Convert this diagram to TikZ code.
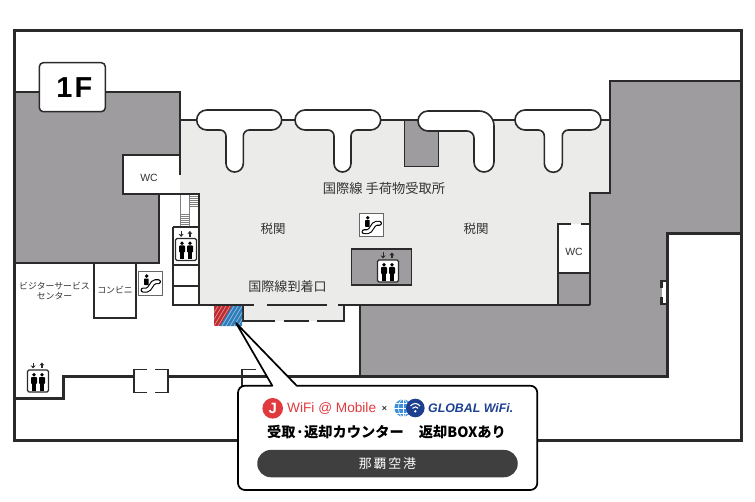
\documentclass[tikz,border=0pt]{standalone}
\usepackage{fontspec}
\setmainfont{Liberation Sans}
\newfontfamily\cjk{Noto Sans CJK JP}
\newfontfamily\cjkwide[LetterSpace=14]{Noto Sans CJK JP}
\usetikzlibrary{arrows.meta}
\definecolor{wallc}{HTML}{2A2A2A}
\definecolor{palec}{HTML}{EBEBEA}
\definecolor{grayc}{HTML}{9E9C9E}
\definecolor{textc}{HTML}{333333}
\definecolor{jred}{HTML}{E0393E}
\definecolor{gblue}{HTML}{3B8FDB}
\definecolor{gnavy}{HTML}{1D3F8F}
\definecolor{hred}{HTML}{BE2A2F}
\definecolor{hblue}{HTML}{2F7CBB}
\tikzset{
  x=1bp,y=-1bp,
  outerwall/.style={draw=wallc,line width=3bp,line join=miter},
  wall/.style={draw=wallc,line width=2.4bp,line join=miter},
  thinwall/.style={draw=wallc,line width=1.7bp,line join=miter},
  belt/.style={draw=wallc,line width=1.6bp,fill=white,line join=round},
  label/.style={text=textc,inner sep=0pt,font=\cjk\fontsize{12.5}{14}\selectfont},
  smalllabel/.style={text=textc,inner sep=0pt,align=center,font=\cjk\fontsize{8.9}{10.2}\selectfont},
  wclabel/.style={text=textc,inner sep=0pt,font=\fontsize{10.5}{11}\selectfont},
  liftarrow/.style={draw=wallc,line width=1.2bp,-{Stealth[length=3bp,width=5bp]}},
  liftpic/.pic={
    \draw[wallc,line width=1.3bp,fill=white,rounded corners=1.5bp] (0,0) rectangle (21,22);
    \foreach \px in {6.5,14.5}{
      \fill[black] (\px,4.7) circle (1.9);
      \fill[black,rounded corners=0.8bp] (\px-3,7) rectangle (\px+3,14);
      \fill[black] (\px-2.4,12) rectangle (\px+2.4,21);
    }
    \draw[liftarrow] (5.6,-7.5) -- (5.6,-1.6);
    \draw[liftarrow] (14.4,-1.6) -- (14.4,-7.5);
  },
  escpic/.pic={
    \draw[gray!80!black,line width=0.8bp,fill=white] (0,0) rectangle (24,23.4);
    \fill[black] (8.2,4.4) circle (1.9);
    \fill[black,rounded corners=0.6bp] (5.6,6.8) rectangle (10.2,13.5);
    \draw[black,line width=5bp,line cap=round] (4.5,18.4) -- (8,18.4) .. controls (12,18.4) and (13,10) .. (17,10) -- (20,10);
    \draw[white,line width=2.8bp,line cap=round] (4.5,18.4) -- (8,18.4) .. controls (12,18.4) and (13,10) .. (17,10) -- (20,10);
  }
}
\begin{document}
\begin{tikzpicture}
\useasboundingbox (0,0) rectangle (755,502);
\fill[white] (0,0) rectangle (755,502);

% floor areas
\fill[palec] (180,120) -- (610,120) -- (610,193) -- (590,193) -- (590,305) -- (344,305) -- (344,321) -- (243,321) -- (243,305) -- (199,305) -- (199,194) -- (180,194) -- cycle;
\fill[grayc] (14,92) -- (180,92) -- (180,155) -- (123,155) -- (123,194) -- (159,194) -- (159,263) -- (14,263) -- cycle;
\fill[grayc] (610,81) -- (741,81) -- (741,233.5) -- (667,233.5) -- (667,376) -- (360,376) -- (360,305) -- (590,305) -- (590,193) -- (610,193) -- cycle;
\fill[white] (123,155) rectangle (180,194);
\fill[white] (558,224) rectangle (590,273);
\fill[grayc] (558,273) rectangle (590,305);
\fill[grayc] (404.5,120) rectangle (438.5,166.5);

% stairs
\foreach \yy in {196,198,200,202,204,206}{\draw[gray,line width=0.6bp] (189.5,\yy) -- (197.5,\yy);}
\foreach \yy in {214,216,218,220,222,224}{\draw[gray,line width=0.6bp] (180,\yy) -- (189.5,\yy);}
\draw[gray,line width=0.6bp] (180,194) -- (180,226);
\draw[gray,line width=0.6bp] (189.5,194) -- (189.5,226);

% walls
\draw[outerwall] (14.5,30.5) rectangle (741,440);
\draw[wall] (14,92) -- (180,92) -- (180,120) -- (610,120);
\draw[wall] (610,120) -- (610,81) -- (741,81);
\draw[thinwall] (610,120) -- (610,193) -- (590,193) -- (590,305);
\draw[thinwall] (180,120) -- (180,175);
\draw[thinwall] (180,155) -- (123,155) -- (123,194) -- (199,194) -- (199,305);
\draw[wall] (159,194) -- (159,263) -- (14,263);
\draw[thinwall] (173.3,227) -- (199,227) (173.3,265) -- (199,265) (173.3,285.7) -- (199,285.7) (173.3,227) -- (173.3,305) -- (199,305);
\draw[thinwall] (94,263) -- (94,318.3) -- (135.7,318.3) -- (135.7,263);
% arrivals line and vestibule
\draw[thinwall] (199,305) -- (254,305) (267,305) -- (327,305) (338,305) -- (590,305);
\draw[thinwall] (243,305) -- (243,320.7) -- (275,320.7) (284,320.7) -- (309,320.7) (317,320.7) -- (344,320.7) -- (344,305);
% wc right
\draw[thinwall] (558,305) -- (558,224) -- (571,224) (581,224) -- (590,224);
\draw[thinwall] (558,273) -- (590,273);
% grey pillar
\draw[thinwall] (404.5,120) -- (404.5,166.5) -- (438.5,166.5) -- (438.5,120);
% right room
\fill[white] (662,282) rectangle (667,303);
\draw[draw=wallc,line width=2.5bp] (667,281) -- (661.5,281) -- (661.5,288) (661.5,297) -- (661.5,304) -- (667,304);
\draw[wall] (741,233.5) -- (667.3,233.5) -- (667.3,376);
\draw[wall] (360,305) -- (360,376);
% lower corridor
\draw[outerwall] (14,398) -- (63,398) -- (63,376) -- (134,376);
\draw[outerwall] (168,376) -- (668.5,376);
\draw[draw=wallc,line width=1.5bp] (147,369.5) -- (134,369.5) -- (134,392.5) -- (147,392.5);
\draw[draw=wallc,line width=1.5bp] (155,369.5) -- (168,369.5) -- (168,392.5) -- (155,392.5);
\draw[draw=wallc,line width=1.5bp] (256,369.5) -- (242,369.5) -- (242,392.5);

% luggage belts
\draw[belt] (240,110) [rounded corners=10bp] -- (281.7,110) -- (281.7,130) [rounded corners=6bp] -- (243.3,130) [rounded corners=8.5bp] -- (243.3,172) -- (226,172) [rounded corners=6bp] -- (226,130) [rounded corners=10bp] -- (196.7,130) -- (196.7,110) [sharp corners] -- cycle;
\draw[belt] (340,110) [rounded corners=10bp] -- (380.7,110) -- (380.7,130) [rounded corners=6bp] -- (351,130) [rounded corners=8.5bp] -- (351,172) -- (334,172) [rounded corners=6bp] -- (334,130) [rounded corners=10bp] -- (295,130) -- (295,110) [sharp corners] -- cycle;
\draw[belt] (450,111) [rounded corners=15bp] -- (494,111) [rounded corners=10bp] -- (494,172) -- (474,172) [rounded corners=7bp] -- (474,131) [rounded corners=10bp] -- (418,131) -- (418,111) [sharp corners] -- cycle;
\draw[belt] (555,110) [rounded corners=10bp] -- (601,110) -- (601,130) [rounded corners=6bp] -- (562.3,130) [rounded corners=9bp] -- (562.3,172.3) -- (544.3,172.3) [rounded corners=6bp] -- (544.3,130) [rounded corners=10bp] -- (515,130) -- (515,110) [sharp corners] -- cycle;

% floor badge
\node[draw=wallc,line width=1.5bp,fill=white,rounded corners=4bp,minimum width=66bp,minimum height=49bp,inner sep=0pt,font=\bfseries\fontsize{29}{29}\selectfont] (floor) at (72.3,87.2) {\hspace{4bp}1\hspace{2bp}F};

% lift bank
\draw[thinwall,fill=grayc] (351.5,249) rectangle (411.5,285);
\pic at (377.5,260) {liftpic};
\pic at (175.5,238.5) {liftpic};
\pic at (27.5,370) {liftpic};
\pic at (138.5,271.7) {escpic};
\pic at (359.5,213.3) {escpic};

% labels
\node[label,font=\cjk\fontsize{13.3}{14}\selectfont] (baggage) at (384,188.5) {国際線 手荷物受取所};
\node[label] (customsl) at (273,229) {税関};
\node[label] (customsr) at (476,229) {税関};
\node[label,font=\cjk\fontsize{13.1}{14}\selectfont] (arrivals) at (287.5,287) {国際線到着口};
\node[wclabel] (wcl) at (149,178) {WC};
\node[wclabel] (wcr) at (574,251.5) {WC};
\node[smalllabel] (conv) at (115,290) {コンビニ};
\node[smalllabel] (visitor) at (54.5,291) {ビジターサービス\\センター};

% counter marker
\begin{scope}
  \clip (214,306) rectangle (242,326);
  \fill[hred] (214,306) rectangle (242,326);
  \fill[hblue] (232,306) -- (242,306) -- (242,326) -- (220,326) -- cycle;
  \foreach \k in {0,4,...,44}{
    \draw[white,opacity=.55,line width=0.6bp] (206+\k,326) -- (218+\k,306);
  }
\end{scope}

% callout
\coordinate (tip) at (236,323);
\draw[draw=black,line width=1.7bp,fill=white,line join=round]
  (tip) -- (296.7,385.7) [rounded corners=7bp] -- (537.3,385.7) -- (537.3,490) -- (238,490) -- (238,385.7) [sharp corners] -- (272.3,385.7) -- cycle;

% logos
\fill[jred] (272.7,408.3) circle (10.3);
\node[text=white,inner sep=0pt,font=\bfseries\fontsize{15}{15}\selectfont] (jlogo) at (272.7,408.3) {J};
\node[anchor=west,text=jred,inner sep=0pt,font=\fontsize{13.7}{14}\selectfont] (jtext) at (287,408.3) {WiFi @ Mobile};
\node[text=textc,inner sep=0pt,font=\bfseries\fontsize{9}{9}\selectfont] (times) at (384.5,408.8) {×};
\begin{scope}
  \fill[gblue] (403,408) circle (8.6);
  \draw[white,line width=0.6bp] (403,399.4) -- (403,416.6) (394.4,408) -- (411.6,408) (396,403) -- (410,403) (396,413) -- (410,413);
  \draw[white,line width=0.6bp] (403,408) ellipse (4.5 and 8.6);
  \fill[gnavy] (415.3,408) circle (9.3);
  \draw[white,line width=1.1bp] (410.5,406) arc[start angle=-145,end angle=-35,radius=5.8];
  \draw[white,line width=1.1bp] (412.5,408.3) arc[start angle=-145,end angle=-35,radius=3.4];
  \fill[white] (415.3,411.3) circle (1.3);
\end{scope}
\node[anchor=west,text=gnavy,inner sep=0pt,font=\bfseries\itshape\fontsize{12.4}{13}\selectfont] (gtext) at (428,408.3) {GLOBAL WiFi.};

\node[inner sep=0pt,text=black,font=\cjk\bfseries\fontsize{14.3}{15}\selectfont] (counter) at (386.5,432) {受取·返却カウンター\hspace{15bp}返却BOXあり};
\node[fill=wallc!90!white,text=white,rounded corners=13.6bp,minimum width=260.5bp,minimum height=27.3bp,inner sep=0pt,font=\cjkwide\fontsize{13}{14}\selectfont] (airport) at (387.5,463.6) {那覇空港};
\end{tikzpicture}
\end{document}
